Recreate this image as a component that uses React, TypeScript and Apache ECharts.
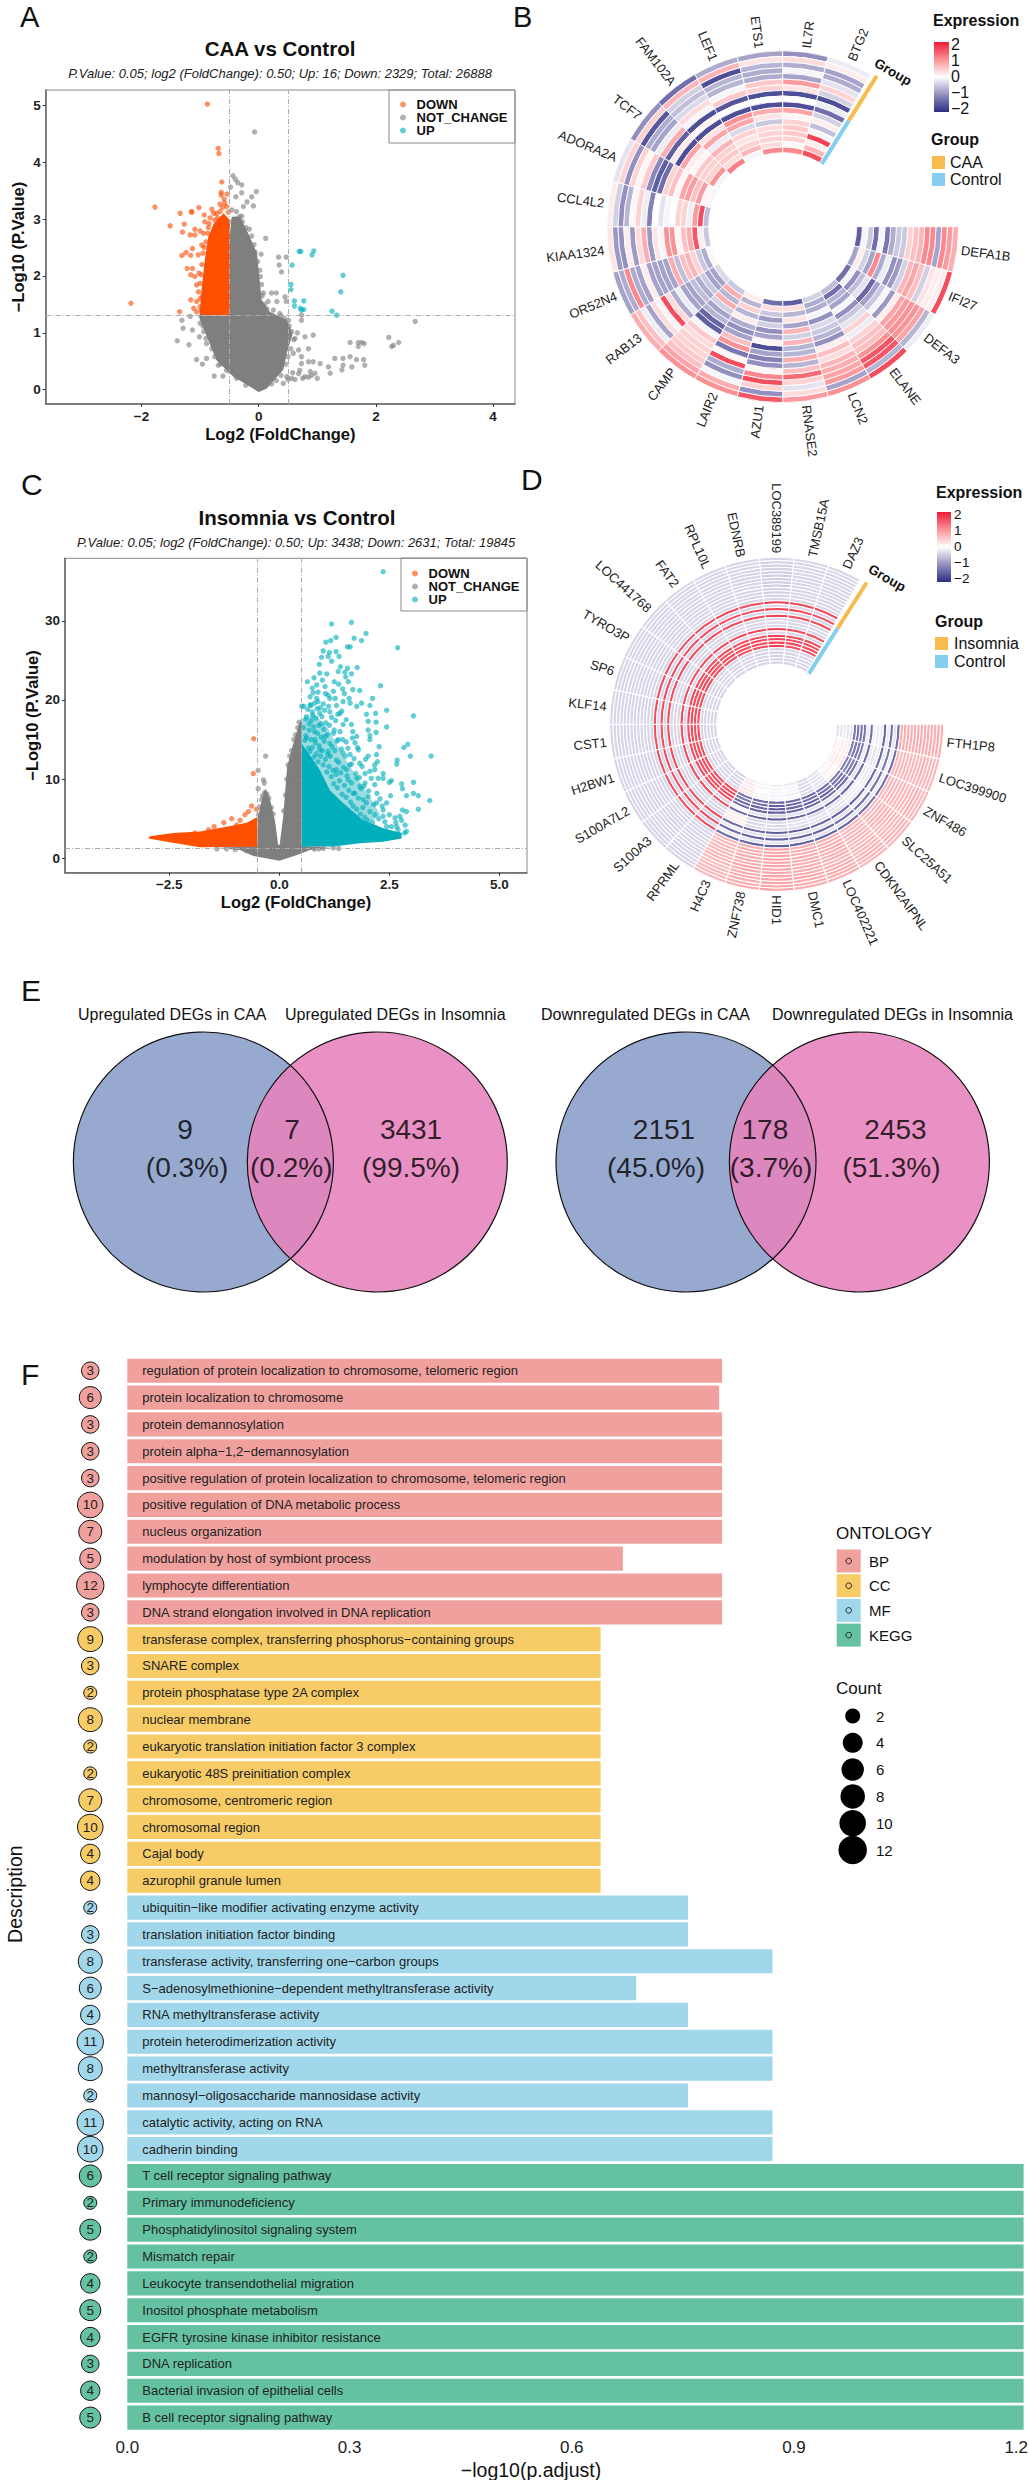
import React, { useEffect, useRef } from "react";
import * as echarts from "echarts";

const FONT = "Liberation Sans";
const ORANGE = "#FC4E07";
const GREY = "#7f7f7f";
const TEAL = "#00AFBB";

// ---------- Panel A: CAA vs Control ----------
const caaDownDots = [[-.876,5.02],[-.69,4.24],[-.68,4.15],[-.63,3.65],[-.64,3.47],[-.54,3.44],[-.64,3.42],[-.59,3.35],[-.66,3.26],[-.55,3.22],[-1.77,3.21],[-1.34,3.1],[-1.15,3.13],[-1.14,3.12],[-1.02,3.2],[-.93,3.07],[-.8,3.17],[-.72,3.1],[-.77,3.1],[-.66,3.13],[-1.27,2.91],[-1.51,2.88],[-1.3,2.77],[-1.09,2.82],[-1,2.79],[-1.17,2.72],[-1.09,2.72],[-.92,2.95],[-.94,2.75],[-1.13,2.48],[-1.31,2.36],[-1.24,2.41],[-1.16,2.36],[-1.03,2.37],[-.97,2.54],[-1.22,2.13],[-1.13,2.13],[-1.16,2.02],[-1.09,1.99],[-1.06,1.84],[-1,1.87],[-1.16,1.58],[-1.06,1.55],[-1.11,1.43],[-1.35,1.37],[-2.18,1.52],[-1.06,1.37],[-1,1.46],[-.86,2.85],[-.83,3.02],[-.75,2.98],[-.97,2.2],[-1.02,2.05],[-.95,2.4],[-.98,2.02],[-.96,1.65],[-.93,2.5],[-.9,2.6],[-.87,2.75],[-1.03,1.72],[-1,1.6],[-.98,1.4],[-.85,2.92],[-.7,3.02],[-.62,3.2],[-.58,3.28],[-.52,3.12]];
const caaUpDots = [[.69,2.43],[.72,2.43],[.94,2.44],[.91,2.37],[.57,2.19],[1.44,2.01],[1.4,1.72],[.55,1.85],[.55,1.76],[.61,1.56],[.77,1.56],[.61,1.47],[.71,1.43],[.73,1.4],[.77,1.41],[1.25,1.38],[1.33,1.31]];
const caaGreyDots = [[-.07,4.53],[-.44,3.76],[-.4,3.7],[-.36,3.64],[-.29,3.6],[-.48,3.56],[-.04,3.48],[-.12,3.39],[-.29,3.46],[-.39,3.39],[-.2,3.3],[-.26,3.22],[-.09,3.23],[-.46,3.16],[-.38,3.13],[-.29,3.05],[.12,2.66],[.34,2.33],[.47,2.33],[.35,2.19],[.39,2.07],[.04,2.38],[.03,1.99],[.08,1.7],[.22,1.7],[.3,1.7],[.31,1.55],[.45,1.63],[.47,1.55],[.16,1.55],[.25,1.4],[2.67,1.2],[2.22,.92],[2.39,.83],[2.27,.76],[2.3,.78],[1.56,.83],[1.7,.83],[1.76,.83],[1.8,.81],[1.7,.76],[1.3,.55],[1.44,.55],[1.56,.58],[1.67,.53],[1.79,.53],[1.81,.43],[1.59,.4],[1.44,.43],[1.42,.35],[1.19,.4],[1.22,.29],[1.05,.46],[.93,.49],[.85,.49],[.73,.46],[.88,.32],[.96,.29],[.79,.23],[.56,.2],[.48,.23],[.42,.11],[-1.39,.86],[-1.19,.79],[-1.29,1.08],[-1.31,1.22],[-1.17,1.29],[-1.13,1.05],[-1.06,.53],[-.96,.45],[-.89,.55],[-.76,.24],[-.61,.24],[-.69,.43],[-.49,.32],[-1,1.17],[-1.01,.93],[-.89,.81],[.51,1.22],[.48,1.05],[.73,1.22],[.73,1.31],[.79,.93],[.93,.96],[.62,.9],[.59,.64],[.73,.58],[.36,1.34],[.42,1.2],[.85,.22],[.9,.25],[.68,.28],[.75,.2],[.62,.18],[1.0,.2],[-.45,2.95],[-.4,3],[-.33,3.04],[-.28,2.95],[-.22,2.85],[-.16,2.82],[-.12,2.7],[-.08,2.55],[-.06,2.42],[-.02,2.25],[.02,2.1],[.05,1.85],[.06,1.65],[.1,1.5],[.14,1.42],[.22,1.3],[.3,1.27],[.38,1.3],[.44,1.25],[.52,1.12],[.56,1.02],[.6,.88],[.55,.72],[.5,.58],[.46,.45],[.38,.25],[.3,.16],[.22,.1],[-.94,1.02],[-.9,.9],[-.8,.72],[-.75,.58],[-.65,.45],[-.55,.34],[-.38,.2],[-.22,.08],[-.98,1.28],[-.95,1.12],[.68,.7],[.66,1],[.7,.34],[.58,.3],[.5,.18],[.85,.72]];
const caaGreyMass = [[0,-.04],[-.43,.23],[-.72,.52],[-.86,.87],[-1,1.22],[-1.01,1.3],[-.49,1.3],[-.49,2.75],[-.46,3.04],[-.32,3.04],[-.18,2.75],[-.03,2.4],[.01,1.99],[.05,1.58],[.19,1.37],[.48,1.22],[.58,.99],[.48,.64],[.42,.35],[.14,.02]];
const caaDownMass = [[-.49,1.31],[-1.01,1.31],[-.97,1.81],[-.92,2.28],[-.86,2.69],[-.77,2.91],[-.6,3.1],[-.49,2.98]];

// ---------- Panel C: Insomnia vs Control ----------
const insDownDots = [[-.58,15.1],[-.59,10.7],[-.63,6.6],[-.52,6.2],[-.7,5.9],[-.78,5.5],[-1.08,5],[-1.26,4.5],[-1.48,4],[-1.61,3.6],[-1.92,3.2],[-.89,4.8],[-.97,4.2]];
const insUpDots = [[2.36,36.2],[1.19,29.6],[1.64,29.8],[1.97,28.4],[1.29,27.9],[1.7,27.8],[1.87,27.5],[1.06,27.3],[1.17,27.5],[2.69,26.6],[1.55,26.7],[1.61,26.7],[1,26.2],[1.29,26.1],[1.14,26],[.96,25.4],[1.11,25.5],[1.36,25.5],[.91,24.5],[1.19,24.9],[1.39,24.2],[1.55,24],[1.77,24.1],[1.34,23.6],[1.49,23.5],[1.64,23.3],[.92,23.4],[1.08,23.3],[.79,22.8],[.64,22.3],[1.51,22.9],[1.57,22.3],[2.3,21.8],[.85,21.9],[1.04,21.7],[1.44,21.4],[1.67,21.3],[1.83,21.2],[1.23,21.1],[.77,20.9],[1.11,20.6],[2.12,20.2],[1.59,20.2],[.7,20.4],[.85,20.2],[1.27,20.2],[.56,19.2],[.51,19.2],[1.61,19.6],[1.87,19.6],[1.76,19.2],[2.06,19.3],[2.44,18.7],[1.45,19.8],[1.98,18.2],[2.19,18.3],[3.05,18],[1.38,18.3],[.92,18.3],[1.15,18.5],[.62,17.9],[1.52,17.5],[2.02,17.3],[2.2,17.2],[2.44,16.6],[1.64,16.9],[1.45,16.9],[2.02,16.2],[2.2,15.9],[1.67,16],[1.76,15.4],[2.06,15.5],[2.06,15],[1.72,14.6],[1.52,14.7],[2.27,14.1],[2.92,14.4],[2.83,14],[3.45,12.9],[2.98,12.9],[1.8,13.7],[1.61,13.1],[2.02,12.9],[2.21,13.1],[2.68,12.4],[2.67,11.9],[1.83,12],[1.64,11.9],[2.17,11.8],[2.23,12.2],[1.45,13.3],[1.3,12.4],[2.17,11.2],[2.06,11],[1.95,10.7],[2.36,10.7],[2.25,10.1],[2.36,10.1],[2.55,9.8],[2.5,9.6],[3.05,9.6],[2.78,9.4],[2.8,8.8],[2.17,9.3],[1.95,9.5],[3.05,8.2],[2.89,7.9],[3.16,7.9],[2.53,7.9],[3.42,7.3],[2.02,7.8],[2.29,7.5],[2.44,7],[2.21,7],[3.16,6.2],[2.8,6.1],[2.89,5.9],[2.36,6.1],[2.17,5.5],[2.36,5.3],[2.74,5.3],[2.63,5.1],[2.86,4.2],[2.67,4],[2.89,3.4],[2.7,3.6],[2.44,4],[1.23,15.8],[1.04,15.4],[.81,15],[1.15,14.5],[1.34,15],[.92,13.7],[1.11,13.5],[.7,13.5],[1.3,11.2],[1.53,11.2],[1.76,10.1],[1.57,9.9],[1.83,9.1],[1.68,8.2],[1.91,7.4],[.75,18.5],[.68,17],[.95,17],[.8,16],[1,19.5],[.6,15.5],[.72,19.3],[.88,19.8],
  [.55,16.5],[.58,14.9],[.6,17.6],[.62,15.2],[.65,18.8],[.66,13.9],[.68,16.2],[.7,19.4],[.72,15],[.73,17.4],[.75,14],[.76,18.1],[.78,16.6],[.79,12.8],[.8,19.6],[.82,14.6],[.83,17.7],[.84,13.2],[.86,18.9],[.87,15.8],[.88,12.2],[.9,16.8],[.91,14.2],[.93,19],[.94,12.9],[.95,15.3],[.97,17.9],[.98,13.6],[1,11.8],[1.01,16.3],[1.02,14.8],[1.03,18.7],[1.05,12.5],[1.06,17.1],[1.08,10.9],[1.09,15.6],[1.1,13.1],[1.12,19.2],[1.13,11.6],[1.14,16.8],[1.16,12.9],[1.18,10.3],[1.19,17.8],[1.2,14.1],[1.22,11.1],[1.24,9.4],[1.25,16.2],[1.26,13.6],[1.28,17.4],[1.29,10.6],[1.31,14.8],[1.32,8.9],[1.33,18.2],[1.35,12.1],[1.37,9.8],[1.38,16],[1.4,10.8],[1.41,13.8],[1.43,8.1],[1.44,15],[1.46,11.5],[1.48,9.2],[1.5,12.9],[1.52,7.7],[1.54,10.4],[1.56,13.9],[1.58,8.6],[1.6,11.8],[1.62,7.1],[1.64,9.5],[1.66,15.2],[1.68,6.6],[1.7,12.6],[1.72,8.2],[1.74,10.7],[1.76,6.2],[1.78,14],[1.8,7.6],[1.82,10.2],[1.84,5.6],[1.86,8.8],[1.88,11.6],[1.9,6.4],[1.92,9.1],[1.94,5.2],[1.96,12.5],[1.98,7],[2,4.8],[2.03,8.5],[2.06,5.9],[2.09,10.1],[2.12,4.5],[2.15,6.8],[2.18,3.9],[2.22,8.2],[2.26,5],[2.3,3.6],[2.34,6.6],[2.4,4.6],[2.45,3.2],[2.5,5.5],[2.55,4],[2.6,3],[2.65,4.5],[2.72,3],[2.78,4.8],[2.85,3.2],[1.05,20.8],[1.15,20.2],[1.3,19.3],[1.42,18.6],[1.25,22.3],[1.35,22],[1.48,20.8],[.98,22.5],[.88,21],[.75,21.5]];
const insGreyDots = [[-.31,12.9],[-.48,11.1],[-.36,9.9],[-.34,9.5],[-.48,8.8],[1.23,1.3],[-1.42,1.2],[.9,1.2],[-.47,5.5],[-.44,6.5],[-.4,7.4],[-.38,7.9],[-.33,8.3],[-.28,8.1],[-.24,7.6],[-.18,6.4],[-.14,5.6],[.1,6],[.14,8],[.17,10],[.2,11.8],[.24,12.9],[.28,13.6],[.33,15],[.37,15.6],[.42,16.5],[.45,17.2],[-1.2,1.2],[-1,1.1],[-.75,.95],[.8,1.15],[1,1.25],[1.35,1.25]];
const insDownMass = [[-.5,5.2],[-.74,4.5],[-1.2,4],[-1.8,3.4],[-2.41,3.2],[-2.94,2.8],[-2.98,2.5],[-2.56,2.1],[-1.8,1.4],[-.5,1.47]];
const insUpMass = [[.51,1.47],[.51,14.5],[.92,11.2],[1.15,8.6],[1.45,7],[1.91,4.8],[2.36,3.8],[2.78,3.2],[2.78,2.5],[2.36,2.1],[1.83,1.9],[1.23,1.5]];
const insUpHaze = [[.51,3],[.51,17.5],[.8,18.2],[1.1,16.5],[1.45,13],[1.85,9.5],[2.3,5.5],[1.7,3]];
const insGreyLeftSpike = [[-.5,1.47],[-.48,5.3],[-.36,8.2],[-.31,8.8],[-.21,7.4],[-.1,4.8],[-.02,1.47]];
const insGreyRightSpike = [[0,1.3],[.09,5.3],[.18,11.6],[.32,14.5],[.47,17.3],[.51,17.3],[.51,1.47]];
const insGreyBase = [[-1.42,1.3],[-.89,1.05],[-.59,.3],[0,-.3],[.39,.4],[.7,1.05],[1.23,1.3],[0,1.7]];

// ---------- Panel B: circular heatmap, columns outer ring to inner ring ----------
const caaGenes = ["DEFA1B","IFI27","DEFA3","ELANE","LCN2","RNASE2","AZU1","LAIR2","CAMP","RAB13","OR52N4","KIAA1324","CCL4L2","ADORA2A","TCF7","FAM102A","LEF1","ETS1","IL7R","BTG2"];
const caaHeat = [
  [.9,1.1,1.3,-1,1.3,1.3,.8,.7,.5,-.6,-.6,-.9,-1.5,-.1,-1.6,-.6,-.1,-1.8],
  [1.9,.2,.2,.3,-.5,.7,1,.8,-.5,-1.1,-1.2,-.2,-.9,1.3,-1,-.5,.2,-1],
  [-.2,-.8,1,1.2,1.2,1.1,1,.2,-1.1,-.1,-.6,-1,-1.7,-.3,-.7,-1.2,-.1,-1.6],
  [1.9,-.8,1.8,1.8,1.2,.7,.7,.5,-.2,.5,-.3,-.6,-1.2,-.1,-1,-.8,-1.6,-.7],
  [1.2,-1,1.1,1,.9,.8,.4,.7,.2,-1.2,-.8,-.6,-.4,-1.2,-.1,-.9,-.9,-.5],
  [1.1,.4,-.3,.5,1.6,.7,-.8,.9,-.8,-.8,.8,-.5,.8,-1,.3,-.8,.4,-1.8],
  [1.8,-1.2,.5,1.9,1.3,.1,-1.2,-1.4,-1,-2,.1,-1,-1.2,-.5,-1.1,-.6,.4,-1.6],
  [1.2,.9,-.1,-1.2,-.9,1.9,.1,-1.5,1.2,.7,-1,-1.2,-.9,.2,-.8,.5,-.8,.2],
  [1.2,1,.7,.6,.5,.5,.4,.6,-.1,-1.8,-1.7,-.8,-1,-.5,.9,-.8,.9,-.6],
  [.9,.7,-.2,-1,.4,-.1,1.9,.4,-.9,-.2,-1,-1,-.7,-.9,-.6,-1,-1,-.4],
  [-1,-.9,1.3,-.9,-1,.2,-1,-1,-1,-1,.9,-.7,.7,.8,.5,-.6,-.9,.1],
  [.3,-1.1,-1.2,.2,-1.1,.4,.9,-1.1,.3,-.1,1.2,1.2,.1,.7,.9,1.8,.2,-.6],
  [.2,-.5,-1.2,-.8,.1,.5,-.2,-1.4,0,-.3,-.1,0,.5,.5,-.2,1.1,1.9,-.7],
  [-.3,.5,-1.2,.5,.1,.6,-1.3,-1.8,-1.6,.5,.7,.1,1,1.1,.7,1.1,.1,-.1],
  [-1.2,.5,-1.9,-.9,-1,-.2,.9,-1.8,.2,-2,1,.2,.1,.6,.5,.5,1.2,-.1],
  [-1.6,.8,-.5,-.7,-.4,.4,-.1,-2,.1,-2,.3,1,-.2,.8,.5,.6,.4,1.4],
  [-.9,.8,-2,-.8,-.8,-.1,.6,-1.9,0,-2,1.2,1,-.4,.5,.3,.5,.8,-.1],
  [-1,.3,-.8,-.9,-.9,.6,.5,-2,0,-2,.9,.3,-.6,.4,.5,.5,.4,1.3],
  [-1.2,.4,-.9,-.1,-1,1.1,.3,-2,0,-2,1,.1,.5,.6,.6,.5,.1,1.3],
  [-.2,.2,-1,-.9,-.3,.5,-.5,-2,-.2,-1.6,-.5,.2,-.7,-.1,2,.2,.8,1.9],
];

// ---------- Panel D: circular heatmap ----------
const insGenes = ["FTH1P8","LOC399900","ZNF486","SLC25A51","CDKN2AIPNL","LOC402221","DMC1","HID1","ZNF738","H4C3","RPRML","S100A3","S100A7L2","H2BW1","CST1","KLF14","SP6","TYRO3P","LOC441768","FAT2","RPL10L","EDNRB","LOC389199","TMSB15A","DAZ3"];
const insLowerColumns = [
  [.9,.9,.9,.9,.9,.9,.9,.9,.9,.9,.9,.9,.9,-1.6,-.3,-1.6,-.2,-1.7,-.2,-.2,-.1,-1.6,-.2,-1.5,-1.5,-1.5,-1.5,-.3,-.3,-.2,-.3,-.3],
  [.8,.8,.8,.8,.9,.8,.8,.8,.8,.8,.8,.8,.8,-1.6,-.2,-1.5,-.2,-1.6,-.2,-.3,-.2,-1.6,-.2,-1.4,-1.5,-1.5,-1.4,.2,.2,.2,.1,.2],
  [.8,.8,.8,.9,.8,.8,.8,.8,.8,.8,.8,.8,.8,-1.6,-.2,-1.6,-.2,-1.6,-.2,-.2,-.2,-1.6,-.3,-1.5,-1.5,-1.4,-1.4,.3,.2,.3,.2,.1],
  [.8,.8,.8,.8,.8,.8,.8,.8,.8,.8,.8,.8,.8,-1.6,-.3,-1.6,-.2,-1.7,-.2,-.2,-.2,-1.7,-.3,-1.6,-1.6,-1.6,-1.5,.2,.1,.2,.1,-.1],
  [.8,.8,.9,.8,.8,.9,.8,.8,.8,.8,.8,.8,.8,-1.7,-.3,-1.6,-.3,-1.7,-.3,-.3,-.3,-1.7,-.3,-1.6,-1.7,-1.6,-1.6,-.3,-.3,-.3,-.3,-.3],
  [.9,.9,.9,.9,.9,.8,.9,.9,.9,.9,.9,.9,.9,-1.7,-.3,-1.7,-.3,-1.7,-.3,-.3,-.4,-1.6,-.3,-1.7,-1.7,-1.6,-1.6,-.4,-.4,-.4,-.4,-.4],
  [.9,.9,.9,1,.9,.9,.9,.9,.9,.9,.9,.9,.9,-1.7,-.3,-1.7,-.3,-1.8,-.4,-.3,-.3,-1.7,-.3,-1.7,-1.7,-1.7,-1.6,-.1,-.2,-.1,-.1,-.2],
  [1,1,1,1,1,1,1,1,1,1,1,1,1,-1.8,-.3,-1.8,-.4,-1.8,-.4,-.4,-.4,-1.8,-.4,-1.8,-1.8,-1.8,-1.7,-.1,-.1,-.1,-.1,-.2],
  [.9,.9,.9,.9,.9,.9,1,.9,.9,.9,.9,.9,.9,-1.7,-.3,-1.7,-.3,-1.7,-.4,-.4,-.4,-1.7,-.3,-1.7,-1.7,-1.6,-1.6,-.1,-.1,0,-.1,-.1],
  [.8,.8,.8,.8,.7,.8,.8,.8,.8,.8,.8,.8,.8,-1.6,-.2,-1.6,-.2,-1.6,.2,.2,.2,-1.6,-.1,-1.6,-1.6,-1.5,-1.5,.3,.3,.2,.3,.2],
];
const insUpperTypical = [-.45,-.45,-.45,-.45,-.45,-.45,-.45,-.45,-.45,-.45,-.45,-.45,-.45,1.9,-.45,1.9,-.45,1.9,-.45,-.45,-.45,1.9,-.45,1.9,1.9,1.9,1.9,-.45,-.45,-.45,-.45,-.45];
const insUpperPeak = [-.45,-.5,-.5,-.5,-.55,-.55,-.55,-.55,-.55,-.5,-.5,-.45,-.45,2,-.4,2,-.4,2,-.4,-.4,-.4,2,-.4,2,2,2,2,-.45,-.5,-.5,-.5,-.45];
const insUpperProfileOfGene = [0,0,0,0,0,0,0,0,0,0,0,0,1,0,0];

// ---------- Panel E: Venn ----------
const vennSets = [[0, 0], [1, 0]];
const vennUpTitles = ["Upregulated DEGs in CAA", "Upregulated DEGs in Insomnia"];
const vennDownTitles = ["Downregulated DEGs in CAA", "Downregulated DEGs in Insomnia"];
const vennUpCounts = [[-.106, .25, "9"], [.51, .25, "7"], [1.194, .25, "3431"]];
const vennUpPercents = [[-.094, -.04, "(0.3%)"], [.505, -.04, "(0.2%)"], [1.194, -.04, "(99.5%)"]];
const vennDownCounts = [[-.127, .25, "2151"], [.455, .25, "178"], [1.208, .25, "2453"]];
const vennDownPercents = [[-.173, -.04, "(45.0%)"], [.49, -.04, "(3.7%)"], [1.185, -.04, "(51.3%)"]];

// ---------- Panel F: enrichment ----------
const terms = [
  "regulation of protein localization to chromosome, telomeric region","protein localization to chromosome","protein demannosylation","protein alpha−1,2−demannosylation","positive regulation of protein localization to chromosome, telomeric region","positive regulation of DNA metabolic process","nucleus organization","modulation by host of symbiont process","lymphocyte differentiation","DNA strand elongation involved in DNA replication",
  "transferase complex, transferring phosphorus−containing groups","SNARE complex","protein phosphatase type 2A complex","nuclear membrane","eukaryotic translation initiation factor 3 complex","eukaryotic 48S preinitiation complex","chromosome, centromeric region","chromosomal region","Cajal body","azurophil granule lumen",
  "ubiquitin−like modifier activating enzyme activity","translation initiation factor binding","transferase activity, transferring one−carbon groups","S−adenosylmethionine−dependent methyltransferase activity","RNA methyltransferase activity","protein heterodimerization activity","methyltransferase activity","mannosyl−oligosaccharide mannosidase activity","catalytic activity, acting on RNA","cadherin binding",
  "T cell receptor signaling pathway","Primary immunodeficiency","Phosphatidylinositol signaling system","Mismatch repair","Leukocyte transendothelial migration","Inositol phosphate metabolism","EGFR tyrosine kinase inhibitor resistance","DNA replication","Bacterial invasion of epithelial cells","B cell receptor signaling pathway",
];
const pAdjust = [.803,.799,.803,.803,.803,.803,.803,.669,.803,.803, .639,.639,.639,.639,.639,.639,.639,.639,.639,.639, .757,.757,.871,.687,.757,.871,.871,.757,.871,.871, 1.21,1.21,1.21,1.21,1.21,1.21,1.21,1.21,1.21,1.21];
const counts = [3,6,3,3,3,10,7,5,12,3, 9,3,2,8,2,2,7,10,4,4, 2,3,8,6,4,11,8,2,11,10, 6,2,5,2,4,5,4,3,4,5];
const ontologies = ["BP","CC","MF","KEGG"];
const ontologyOfTerm = [0,0,0,0,0,0,0,0,0,0, 1,1,1,1,1,1,1,1,1,1, 2,2,2,2,2,2,2,2,2,2, 3,3,3,3,3,3,3,3,3,3];
const countLegend = [2, 4, 6, 8, 10, 12];
const expressionTicks = [2, 1, 0, -1, -2];

// ---------- style constants ----------
const ONTOLOGY_COLORS = ["#F0A19E", "#F7CB66", "#A1D7EA", "#64C2A3"];
const DOT_SIZES: Record<number, number> = { 2: 13, 3: 17.5, 4: 19.4, 5: 21, 6: 22, 7: 23, 8: 24, 9: 25, 10: 25.6, 11: 26.4, 12: 27.4 };
const LEGEND_SIZES: Record<number, number> = { 2: 15, 4: 20, 6: 22.5, 8: 24.5, 10: 26.5, 12: 28.5 };
const HEAT_COLORS = ["#2d2e83", "#9390bf", "#ffffff", "#fb9296", "#ed1c36"];
const minusText = (s: string) => s.replace("-", "−");

function massSeries(name: string, points: number[][], color: string, opacity: number, idx: number) {
  return {
    type: "custom", name, coordinateSystem: "cartesian2d", xAxisIndex: idx, yAxisIndex: idx, silent: true,
    data: points, encode: { x: 0, y: 1 }, clip: true, itemStyle: { color },
    renderItem: (params: any, api: any) => {
      if (params.dataIndex !== 0) return null;
      return { type: "polygon", shape: { points: points.map((p) => api.coord(p)) }, style: { fill: color, opacity } };
    },
  };
}
function dotSeries(name: string, data: number[][], color: string, idx: number, extra: any = {}) {
  return { type: "scatter", name, xAxisIndex: idx, yAxisIndex: idx, data, symbolSize: 5.4, silent: true, large: false, itemStyle: { color, opacity: 0.62 }, ...extra };
}
const cutoffLines = {
  silent: true, symbol: "none", label: { show: false }, precision: 3,
  lineStyle: { color: "#ababab", width: 1, type: [5, 2, 1, 2] },
  data: [{ xAxis: -0.5 }, { xAxis: 0.5 }, { yAxis: 1.3 }],
};

function heatSeries(polarIndex: number, columns: number[][]) {
  const data: number[][] = [];
  columns.forEach((col, c) => col.forEach((v, r) => data.push([r, c, v])));
  return {
    type: "custom", coordinateSystem: "polar", polarIndex, silent: true, data,
    encode: { radius: 0, angle: 1 }, dimensions: ["row", "col", "value"],
    renderItem: (params: any, api: any) => {
      const r = api.value(0), c = api.value(1);
      const a = api.coord([r, c]);
      const b = api.coord([r + 1, c + 1]);
      return {
        type: "sector",
        shape: { cx: params.coordSys.cx, cy: params.coordSys.cy, r: a[2], r0: b[2], startAngle: -a[3], endAngle: -b[3], clockwise: true },
        style: { fill: api.visual("color"), stroke: "#fff", lineWidth: polarIndex === 0 ? 0.9 : 1.05 },
      };
    },
  };
}
function geneLabelSeries(polarIndex: number, genes: string[], outside: number) {
  return {
    type: "custom", coordinateSystem: "polar", polarIndex, silent: true,
    data: genes.map((_, i) => [outside, i + 0.5]), encode: { radius: 0, angle: 1 },
    renderItem: (params: any, api: any) => {
      const p = api.coord([outside, params.dataIndex + 0.5]);
      const theta = p[3];
      const right = Math.cos(theta) >= 0;
      return {
        type: "text", x: p[0], y: p[1], rotation: right ? theta : theta + Math.PI,
        style: { text: genes[params.dataIndex], align: right ? "left" : "right", verticalAlign: "middle", textAlign: right ? "left" : "right", textVerticalAlign: "middle", fontFamily: FONT, fontSize: 13, fill: "#222" },
      };
    },
  };
}
function groupBarSeries(polarIndex: number, angle: number, rows: number) {
  const segments = [[-0.3, rows / 2, "#F7BC4D"], [rows / 2, rows, "#84CEF0"]];
  return {
    type: "custom", coordinateSystem: "polar", polarIndex, silent: true,
    data: segments.map((s) => [s[0], angle]), encode: { radius: 0, angle: 1 },
    renderItem: (params: any, api: any) => {
      const seg = segments[params.dataIndex];
      const p = api.coord([seg[0], angle]);
      const q = api.coord([seg[1], angle]);
      return { type: "line", shape: { x1: p[0], y1: p[1], x2: q[0], y2: q[1] }, style: { stroke: seg[2], lineWidth: 4 } };
    },
  };
}

function vennGrid(left: number, unit: number) {
  return { left, top: 1032, width: 3 * unit, height: 260, show: false, outerBoundsMode: "none" };
}
function hiddenValueAxis(min: number, max: number, gridIndex: number) {
  return { type: "value", gridIndex, min, max, show: false, splitLine: { show: false } };
}
function vennSeries(idx: number, countLabels: any[], percentLabels: any[]) {
  const labelSeries = (rows: any[]) => ({
    type: "scatter", xAxisIndex: idx, yAxisIndex: idx, silent: true, symbolSize: 1, itemStyle: { color: "transparent" }, z: 6,
    data: rows.map((r) => ({ value: [r[0], r[1]], name: r[2] })),
    label: { show: true, position: "inside", formatter: "{b}", fontFamily: FONT, fontSize: 28, color: "#000", textBorderWidth: 0 },
  });
  return [
    { type: "scatter", xAxisIndex: idx, yAxisIndex: idx, silent: true, symbolSize: 260, data: [vennSets[0]], itemStyle: { color: "#98A9D0", opacity: 1 }, z: 3 },
    { type: "scatter", xAxisIndex: idx, yAxisIndex: idx, silent: true, symbolSize: 260, data: [vennSets[1]], itemStyle: { color: "rgb(230,130,188)", opacity: 0.88 }, z: 4 },
    { type: "scatter", xAxisIndex: idx, yAxisIndex: idx, silent: true, symbolSize: 260, data: vennSets, itemStyle: { color: "transparent", borderColor: "#111", borderWidth: 1.2, opacity: 1 }, z: 5 },
    labelSeries(countLabels),
    labelSeries(percentLabels),
  ];
}

const tickLabel = { fontFamily: FONT, fontWeight: "bold" as const, fontSize: 13.5, color: "#222" };
const axisName = { fontFamily: FONT, fontWeight: "bold" as const, fontSize: 16.5, color: "#111" };
function volcanoAxes(gridIndex: number, xr: number[], yr: number[], xt: number[], yt: number[], nameGapX: number, nameGapY: number, xFmt: (v: number) => string) {
  const line = { show: true, lineStyle: { color: "#666", width: 1.5 } };
  return {
    x: {
      type: "value", gridIndex, min: xr[0], max: xr[1], splitLine: { show: false }, axisLine: { ...line, onZero: false },
      name: "Log2 (FoldChange)", nameLocation: "middle", nameGap: nameGapX, nameTextStyle: axisName,
      axisTick: { show: true, length: 3, customValues: xt, lineStyle: { color: "#333" } },
      axisLabel: { ...tickLabel, margin: 5, customValues: xt, formatter: (v: number) => minusText(xFmt(v)) },
    },
    y: {
      type: "value", gridIndex, min: yr[0], max: yr[1], splitLine: { show: false }, axisLine: { ...line, onZero: false },
      name: "−Log10 (P.Value)", nameLocation: "middle", nameGap: nameGapY, nameTextStyle: axisName,
      axisTick: { show: true, length: 3, customValues: yt, lineStyle: { color: "#333" } },
      axisLabel: { ...tickLabel, margin: 5, customValues: yt, formatter: (v: number) => String(v) },
    },
  };
}

function txt(text: string, x: number, y: number, fontSize: number, opts: any = {}) {
  const { rotation, ...style } = opts;
  return {
    type: "text", x, y, rotation: rotation || 0, silent: true,
    style: { text, fontFamily: FONT, fontSize, fill: "#111", align: "left", verticalAlign: "middle", ...style },
  };
}
function rectEl(x: number, y: number, width: number, height: number, style: any) {
  return { type: "rect", shape: { x, y, width, height }, style, silent: true };
}

function buildOption() {
  const A = volcanoAxes(0, [-3.635, 4.374], [-0.251, 5.267], [-2, 0, 2, 4], [0, 1, 2, 3, 4, 5], 21, 19, (v) => String(v));
  const C = volcanoAxes(1, [-4.87, 5.63], [-1.82, 37.9], [-2.5, 0, 2.5, 5], [0, 10, 20, 30], 21, 25, (v) => v.toFixed(1));

  const insUpperColumns = insUpperProfileOfGene.map((p) => (p === 0 ? insUpperTypical : insUpperPeak));
  const insHeat = [...insLowerColumns, ...insUpperColumns];

  const series: any[] = [
    massSeries("a-grey", caaGreyMass, GREY, 1, 0),
    dotSeries("NOT_CHANGE", caaGreyDots, GREY, 0, { markLine: cutoffLines }),
    massSeries("a-down", caaDownMass, "#FE5000", 1, 0),
    dotSeries("DOWN", caaDownDots, ORANGE, 0),
    dotSeries("UP", caaUpDots, TEAL, 0),

    massSeries("c-grey-base", insGreyBase, GREY, 1, 1),
    massSeries("c-grey-left", insGreyLeftSpike, GREY, 1, 1),
    massSeries("c-grey-right", insGreyRightSpike, GREY, 1, 1),
    dotSeries("NOT_CHANGE", insGreyDots, GREY, 1, { markLine: cutoffLines }),
    massSeries("c-down", insDownMass, "#FE5000", 1, 1),
    dotSeries("DOWN", insDownDots, ORANGE, 1),
    massSeries("c-up-haze", insUpHaze, "#5CC6CF", 0.6, 1),
    massSeries("c-up", insUpMass, TEAL, 1, 1),
    dotSeries("UP", insUpDots, TEAL, 1),
  ];
  const heatStart = series.length;
  series.push(heatSeries(0, caaHeat), heatSeries(1, insHeat));
  series.push(geneLabelSeries(0, caaGenes, -0.7), geneLabelSeries(1, insGenes, -1.2));
  series.push(groupBarSeries(0, 20.13, 18), groupBarSeries(1, 25.2, 32));

  // enrichment
  series.push({
    type: "bar", xAxisIndex: 2, yAxisIndex: 2, barWidth: "90%", silent: true,
    data: pAdjust.map((v, i) => ({ value: v, itemStyle: { color: ONTOLOGY_COLORS[ontologyOfTerm[i]] } })),
    label: { show: true, position: "insideLeft", distance: 15, formatter: (p: any) => terms[p.dataIndex], fontFamily: FONT, fontSize: 13, color: "#222", textBorderWidth: 0 },
  });
  series.push({
    type: "scatter", xAxisIndex: 2, yAxisIndex: 2, silent: true,
    data: counts.map((c, i) => ({ value: [-0.05, i], itemStyle: { color: ONTOLOGY_COLORS[ontologyOfTerm[i]], borderColor: "#111", borderWidth: 1, opacity: 1 } })),
    symbolSize: (_: any, p: any) => DOT_SIZES[counts[p.dataIndex]],
    label: { show: true, position: "inside", formatter: (p: any) => String(counts[p.dataIndex]), fontFamily: FONT, fontSize: 13.5, color: "#222", textBorderWidth: 0 },
  });
  series.push(...vennSeries(3, vennUpCounts, vennUpPercents), ...vennSeries(4, vennDownCounts, vennDownPercents));

  const gradient = () => new echarts.graphic.LinearGradient(0, 0, 0, 1, [...HEAT_COLORS].reverse().map((color, i) => ({ offset: i / 4, color })));
  const graphics: any[] = [
    txt("A", 20, 17, 29), txt("B", 513, 17, 29), txt("C", 21, 484, 30), txt("D", 521, 479, 30), txt("E", 21, 990, 30), txt("F", 21, 1374, 30),
    rectEl(389, 90, 126, 53, { fill: "none", stroke: "#8a8a8a", lineWidth: 1 }),
    rectEl(401, 558, 126, 53, { fill: "none", stroke: "#8a8a8a", lineWidth: 1 }),
    // B legend
    txt("Expression", 933, 20, 16, { fontWeight: "bold" }),
    rectEl(934, 42, 15, 70, { fill: gradient() }),
    ...expressionTicks.map((t, i) => txt(minusText(String(t)), 951, 44 + i * 16.2, 16)),
    txt("Group", 931, 139, 16, { fontWeight: "bold" }),
    rectEl(932, 156, 13, 13, { fill: "#F7BC4D" }), rectEl(932, 173, 13, 13, { fill: "#84CEF0" }),
    txt("CAA", 950, 162, 16), txt("Control", 950, 179, 16),
    txt("Group", 893, 72, 13.5, { fontWeight: "bold", rotation: -Math.PI / 6, align: "center" }),
    // D legend
    txt("Expression", 936, 492, 16, { fontWeight: "bold" }),
    rectEl(937, 512, 14, 70, { fill: gradient() }),
    ...expressionTicks.map((t, i) => txt(minusText(String(t)), 954, 514 + i * 16, 13.5)),
    txt("Group", 935, 621, 16, { fontWeight: "bold" }),
    rectEl(935, 637, 13, 13, { fill: "#F7BC4D" }), rectEl(935, 655, 13, 13, { fill: "#84CEF0" }),
    txt("Insomnia", 954, 643, 16), txt("Control", 954, 661, 16),
    txt("Group", 887, 578, 13.5, { fontWeight: "bold", rotation: -Math.PI / 6, align: "center" }),
    // E titles
    txt(vennUpTitles[0], 78, 1014, 16), txt(vennUpTitles[1], 285, 1014, 16), txt(vennDownTitles[0], 541, 1014, 16), txt(vennDownTitles[1], 772, 1014, 16),
    // F legend
    txt("ONTOLOGY", 836, 1533, 17),
    ...ontologies.flatMap((o, i) => [
      rectEl(836.7, 1549.5 + i * 24.7, 24, 23, { fill: ONTOLOGY_COLORS[i] }),
      { type: "circle", shape: { cx: 848.7, cy: 1561 + i * 24.7, r: 2.8 }, style: { fill: "none", stroke: "#222", lineWidth: 1 }, silent: true },
      txt(o, 869, 1561 + i * 24.8, 15),
    ]),
    txt("Count", 836, 1688, 17),
    ...countLegend.flatMap((c, i) => [
      { type: "circle", shape: { cx: 852.7, cy: 1716 + i * 26.8, r: LEGEND_SIZES[c] / 2 }, style: { fill: "#000" }, silent: true },
      txt(String(c), 876, 1716 + i * 26.8, 15),
    ]),
  ];

  return {
    animation: false,
    backgroundColor: "#fff",
    textStyle: { fontFamily: FONT },
    title: [
      { text: "CAA vs Control", left: 280, top: 38, textAlign: "center", textStyle: { fontFamily: FONT, fontSize: 20.5, fontWeight: "bold", color: "#111" }, padding: 0 },
      { text: "P.Value: 0.05; log2 (FoldChange): 0.50; Up: 16; Down: 2329; Total: 26888", left: 280, top: 67, textAlign: "center", textStyle: { fontFamily: FONT, fontSize: 13, fontStyle: "italic", fontWeight: "normal", color: "#222" }, padding: 0 },
      { text: "Insomnia vs Control", left: 297, top: 507, textAlign: "center", textStyle: { fontFamily: FONT, fontSize: 20.5, fontWeight: "bold", color: "#111" }, padding: 0 },
      { text: "P.Value: 0.05; log2 (FoldChange): 0.50; Up: 3438; Down: 2631; Total: 19845", left: 296, top: 536, textAlign: "center", textStyle: { fontFamily: FONT, fontSize: 13, fontStyle: "italic", fontWeight: "normal", color: "#222" }, padding: 0 },
    ],
    legend: [
      { left: 400, top: 98, orient: "vertical", padding: 0, itemWidth: 7, itemHeight: 6, itemGap: 0, icon: "circle", selectedMode: false, data: ["DOWN", "NOT_CHANGE", "UP"], textStyle: { fontFamily: FONT, fontWeight: "bold", fontSize: 13, lineHeight: 12.5, color: "#111", padding: [0, 0, 0, 5] } },
      { left: 412, top: 567, orient: "vertical", padding: 0, itemWidth: 7, itemHeight: 6, itemGap: 0, icon: "circle", selectedMode: false, data: ["DOWN", "NOT_CHANGE", "UP"], textStyle: { fontFamily: FONT, fontWeight: "bold", fontSize: 13, lineHeight: 12, color: "#111", padding: [0, 0, 0, 5] } },
    ],
    grid: [
      { left: 45.7, top: 90, width: 469.3, height: 314, show: true, borderColor: "#8a8a8a", borderWidth: 1, outerBoundsMode: "none" },
      { left: 65, top: 558.3, width: 462, height: 314.4, show: true, borderColor: "#8a8a8a", borderWidth: 1, outerBoundsMode: "none" },
      { left: 38.4, top: 1357.3, width: 985.2, height: 1073.7, show: false, outerBoundsMode: "none" },
      vennGrid(29.5, 173.9),
      vennGrid(512.6, 173.4),
    ],
    xAxis: [
      A.x, C.x,
      {
        type: "value", gridIndex: 2, min: -0.12, max: 1.21, splitLine: { show: false }, axisLine: { show: false }, axisTick: { show: false },
        axisLabel: { customValues: [0, 0.3, 0.6, 0.9, 1.2], fontFamily: FONT, fontSize: 17, color: "#222", margin: 8, formatter: (v: number) => v.toFixed(1) },
        name: "−log10(p.adjust)", nameLocation: "middle", nameGap: 29, nameTextStyle: { fontFamily: FONT, fontSize: 19.5, color: "#111" },
      },
      hiddenValueAxis(-1, 2, 3), hiddenValueAxis(-1, 2, 4),
    ],
    yAxis: [
      A.y, C.y,
      {
        type: "category", gridIndex: 2, inverse: true, data: terms, axisLine: { show: false }, axisTick: { show: false }, axisLabel: { show: false }, splitLine: { show: false },
        name: "Description", nameLocation: "middle", nameGap: 13, nameTextStyle: { fontFamily: FONT, fontSize: 19.5, color: "#111" },
      },
      hiddenValueAxis(-1, 1, 3), hiddenValueAxis(-1, 1, 4),
    ],
    polar: [
      { center: [782.7, 226.7], radius: [74, 176] },
      { center: [776.7, 724.3], radius: [60, 167] },
    ],
    angleAxis: [
      { polarIndex: 0, type: "value", min: 0, max: 24, startAngle: 0, clockwise: true, show: false, splitLine: { show: false } },
      { polarIndex: 1, type: "value", min: 0, max: 30, startAngle: 0, clockwise: true, show: false, splitLine: { show: false } },
    ],
    radiusAxis: [
      { polarIndex: 0, type: "value", min: 0, max: 18, inverse: true, show: false, splitLine: { show: false } },
      { polarIndex: 1, type: "value", min: 0, max: 32, inverse: true, show: false, splitLine: { show: false } },
    ],
    visualMap: [{ type: "continuous", show: false, min: -2.4, max: 2.4, dimension: 2, seriesIndex: [heatStart, heatStart + 1], inRange: { color: HEAT_COLORS } }],
    graphic: { elements: graphics },
    series,
  };
}

export default function App() {
  const ref = useRef<HTMLDivElement>(null);
  useEffect(() => {
    document.body.style.margin = "0";
    const chart = echarts.init(ref.current!, undefined, { renderer: "svg" });
    chart.setOption(buildOption() as any);
    return () => chart.dispose();
  }, []);
  return <div ref={ref} style={{ width: 1029, height: 2480 }} />;
}
